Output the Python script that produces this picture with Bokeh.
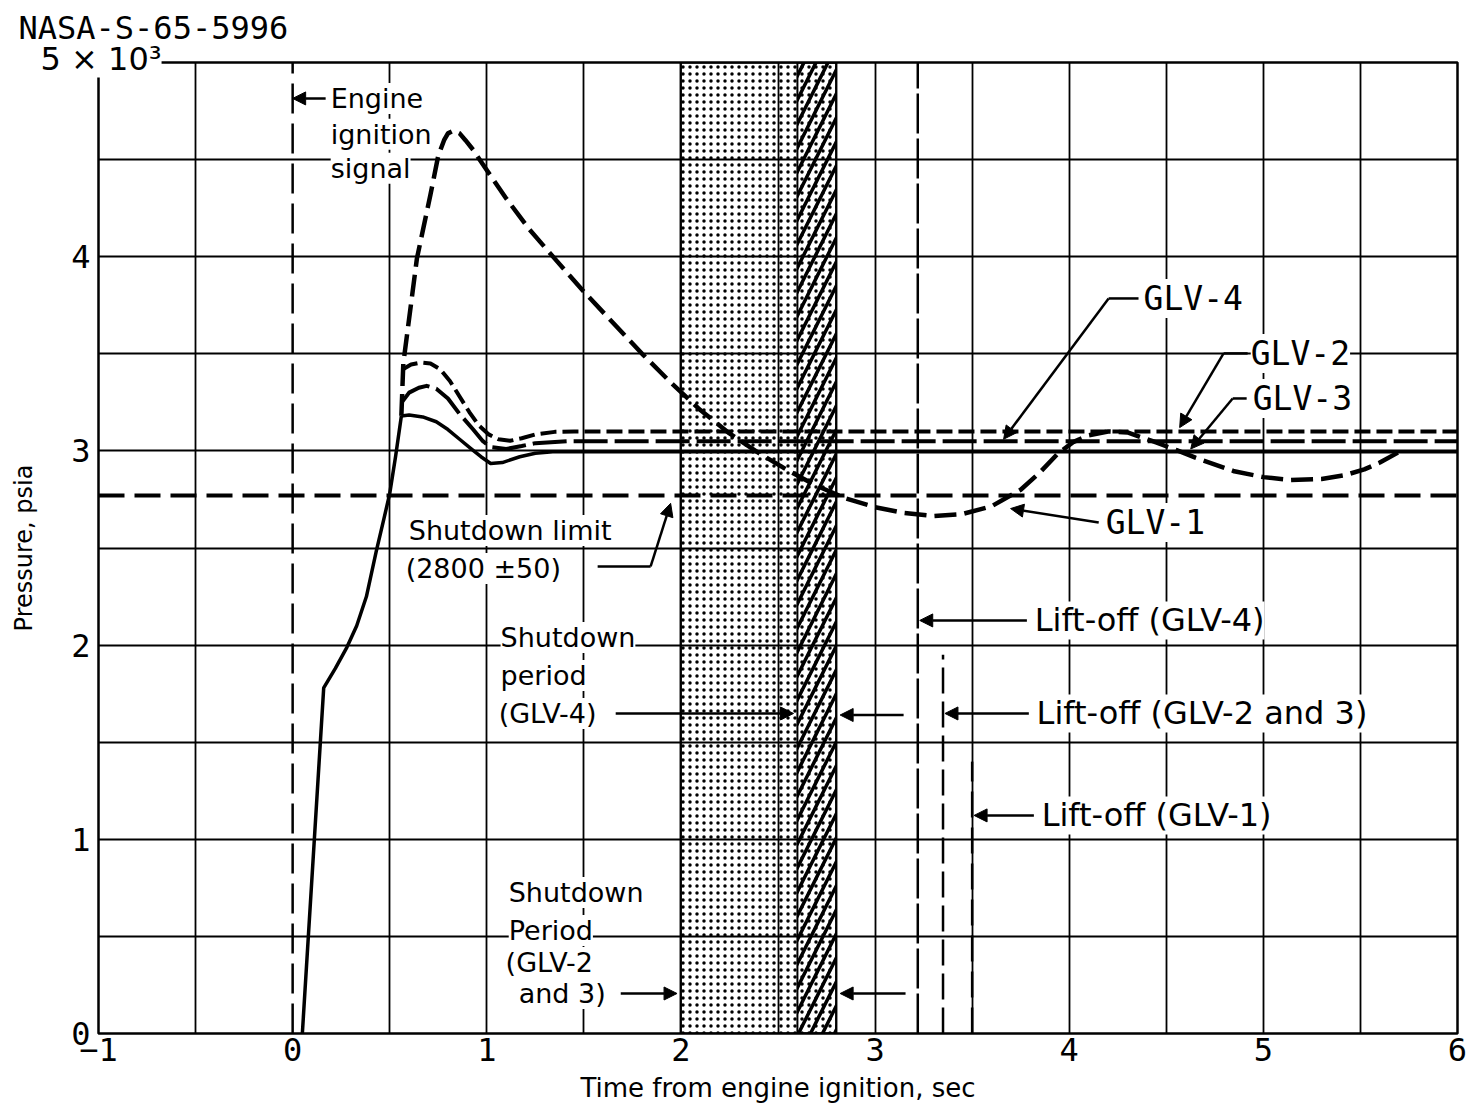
from bokeh.plotting import figure
from bokeh.models import Label, Arrow, NormalHead, FixedTicker, Range1d, Title
from bokeh.embed import file_html
from bokeh.resources import INLINE

# ---------------- data (time in s, pressure in psia) ----------------
rise_t = [0.05, 0.16, 0.22, 0.28, 0.33, 0.38, 0.43, 0.47, 0.50, 0.53, 0.56]
rise_p = [0, 1780, 1880, 1990, 2100, 2250, 2480, 2650, 2780, 2970, 3180]

glv1_t = [0.56, 0.57, 0.64, 0.71, 0.75, 0.78, 0.80, 0.83, 0.86, 0.89, 0.93, 0.99,
          1.10, 1.22, 1.35, 1.50, 1.65, 1.80, 1.95, 2.10, 2.25, 2.40, 2.55, 2.70,
          2.85, 3.00, 3.15, 3.30, 3.45, 3.60, 3.75, 3.85, 3.94, 4.02, 4.10, 4.20,
          4.30, 4.43, 4.55, 4.65, 4.85, 5.00, 5.14, 5.30, 5.42, 5.52, 5.60, 5.70]
glv1_p = [3180, 3450, 3990, 4320, 4520, 4600, 4635, 4650, 4635, 4600, 4550, 4460,
          4300, 4140, 3990, 3820, 3660, 3500, 3350, 3210, 3090, 2990, 2900, 2820,
          2755, 2710, 2680, 2665, 2675, 2715, 2800, 2890, 2985, 3045, 3080, 3100,
          3095, 3050, 3005, 2965, 2895, 2865, 2850, 2855, 2875, 2905, 2940, 2995]

glv2_t = [0.568, 0.61, 0.66, 0.71, 0.76, 0.81, 0.86, 0.91, 0.96, 1.01, 1.06, 1.12,
          1.18, 1.25, 1.35, 1.45, 6.0]
glv2_p = [3420, 3445, 3455, 3450, 3420, 3360, 3280, 3200, 3130, 3085, 3060, 3052,
          3065, 3085, 3098, 3100, 3100]

glv3_t = [0.56, 0.60, 0.67, 0.74, 0.80, 0.86, 0.92, 0.97, 1.02, 1.08, 1.17, 1.25,
          1.34, 1.50, 6.0]
glv3_p = [3180, 3185, 3175, 3150, 3110, 3060, 3010, 2970, 2935, 2940, 2970, 2988,
          2995, 2995, 2995]

glv4_t = [0.562, 0.60, 0.65, 0.69, 0.74, 0.80, 0.86, 0.93, 0.98, 1.02, 1.10, 1.18,
          1.25, 1.42, 6.0]
glv4_p = [3250, 3300, 3325, 3335, 3320, 3270, 3190, 3110, 3050, 3020, 3010, 3025,
          3040, 3050, 3050]

shutdown_limit = 2770
ignition_time = 0.0
liftoff_names = ["GLV-4", "GLV-2 and 3", "GLV-1"]
liftoff_times = [3.22, 3.35, 3.50]
liftoff_tops = [5000, 1950, 1400]
shutdown_23 = [2.0, 2.8]
shutdown_4 = [2.6, 2.8]

x_ticks = [-1, 0, 1, 2, 3, 4, 5, 6]
y_ticks = [0, 1000, 2000, 3000, 4000, 5000]
y_tick_labels = ["0", "1", "2", "3", "4", ""]
x_grid = [-0.5, 0.5, 1, 1.5, 2, 2.5, 3, 3.5, 4, 4.5, 5, 5.5]
y_grid = [500, 1000, 1500, 2000, 2500, 3000, 3500, 4000, 4500]

# ---------------- figure ----------------
p = figure(x_range=Range1d(-1, 6), y_range=Range1d(0, 5000),
           frame_width=1359, frame_height=971,
           min_border_left=98, min_border_right=11, min_border_top=62, min_border_bottom=10,
           output_backend="svg", toolbar_location=None,
           background_fill_color="white", border_fill_color="white")

p.outline_line_color = "black"
p.outline_line_width = 2.5

# scale factor label, sitting on the top-left corner of the frame
p.add_layout(Title(text="5 × 10³", align="left", offset=-58, vertical_align="bottom",
                   standoff=-30, text_font="DejaVu Sans", text_font_size="32px",
                   text_font_style="normal", text_color="black",
                   background_fill_color="white"), "above")

# chart id
p.title.text = "NASA-S-65-5996"
p.title.align = "left"
p.title.offset = -80
p.title.standoff = 12
p.title.text_font = "DejaVu Sans Mono"
p.title.text_font_size = "32px"
p.title.text_font_style = "normal"
p.title.text_color = "black"

p.xgrid.ticker = FixedTicker(ticks=x_grid)
p.ygrid.ticker = FixedTicker(ticks=y_grid)
for g in (p.xgrid, p.ygrid):
    g.grid_line_color = "black"
    g.grid_line_width = 1.8
    g.grid_line_alpha = 1.0

p.xaxis.ticker = FixedTicker(ticks=x_ticks)
p.yaxis.ticker = FixedTicker(ticks=y_ticks)
p.yaxis.major_label_overrides = {t: l for t, l in zip(y_ticks, y_tick_labels)}
for ax in (p.xaxis, p.yaxis):
    ax.axis_line_color = None
    ax.major_tick_in = 0
    ax.major_tick_out = 0
    ax.minor_tick_in = 0
    ax.minor_tick_out = 0
    ax.major_label_text_font = "DejaVu Sans Mono"
    ax.major_label_text_font_size = "32px"
    ax.major_label_text_color = "black"
    ax.axis_label_text_font = "DejaVu Sans"
    ax.axis_label_text_font_style = "normal"
    ax.axis_label_text_color = "black"
p.xaxis.major_label_standoff = 4
p.yaxis.major_label_standoff = 8
p.xaxis.axis_label = "Time from engine ignition, sec"
p.xaxis.axis_label_text_font_size = "26px"
p.xaxis.axis_label_standoff = 9
p.yaxis.axis_label = "Pressure, psia"
p.yaxis.axis_label_text_font_size = "24px"
p.yaxis.axis_label_standoff = 30

# ---------------- shutdown periods ----------------
p.quad(left=[shutdown_23[0]], right=[shutdown_23[1]], bottom=[0], top=[5000],
       fill_alpha=0, line_color="black", line_width=2,
       hatch_pattern=".", hatch_scale=7, hatch_weight=3.5, hatch_color="black", hatch_alpha=1)
p.quad(left=[shutdown_4[0]], right=[shutdown_4[1]], bottom=[0], top=[5000],
       fill_alpha=0, line_color="black", line_width=2,
       hatch_pattern="/", hatch_scale=24, hatch_weight=3.5, hatch_color="black", hatch_alpha=1)

# ---------------- reference lines ----------------
p.line([-1, 6], [shutdown_limit, shutdown_limit], line_color="black", line_width=4, line_dash="26 10")
p.line([ignition_time, ignition_time], [0, 5000], line_color="black", line_width=2.5, line_dash="30 10")
lift_dash = ["40 5", "26 8", "26 10"]
for t, top, d in zip(liftoff_times, liftoff_tops, lift_dash):
    p.line([t, t], [0, top], line_color="black", line_width=2.5, line_dash=d)

# ---------------- pressure curves ----------------
p.line(rise_t, rise_p, line_color="black", line_width=3.5, line_join="round")
p.line(glv3_t, glv3_p, line_color="black", line_width=3.5, line_join="round")
p.line(glv4_t, glv4_p, line_color="black", line_width=4, line_dash="34 7", line_join="round")
p.line(glv2_t, glv2_p, line_color="black", line_width=4, line_dash="16 6", line_join="round")
p.line(glv1_t, glv1_p, line_color="black", line_width=4.5, line_dash="22 8", line_join="round")

# ---------------- annotations ----------------
def label(x, y, text, size="27px", font="DejaVu Sans"):
    p.add_layout(Label(x=x, y=y, text=text, text_font=font, text_font_size=size,
                       text_baseline="middle", text_align="left", text_color="black",
                       background_fill_color="white"))

def arrow(xs, ys, xe, ye):
    p.add_layout(Arrow(end=NormalHead(size=13, fill_color="black", line_color="black", line_width=1),
                       x_start=xs, y_start=ys, x_end=xe, y_end=ye,
                       line_color="black", line_width=2.5))

def leader(xs, ys):
    p.line(xs, ys, line_color="black", line_width=2.5)

# engine ignition signal
label(0.196, 4815, "Engine")
label(0.196, 4630, "ignition")
label(0.196, 4455, "signal")
arrow(0.17, 4815, ignition_time, 4815)

# shutdown limit
label(0.598, 2590, "Shutdown limit")
label(0.582, 2394, "(2800 ±50)")
leader([1.571, 1.844], [2405, 2405])
arrow(1.844, 2405, 1.947, 2730)

# shutdown period GLV-4
label(1.071, 2039, "Shutdown")
label(1.071, 1843, "period")
label(1.061, 1648, "(GLV-4)")
arrow(1.664, 1648, shutdown_4[0] - 0.02, 1648)
arrow(3.147, 1640, shutdown_4[1] + 0.02, 1640)

# shutdown period GLV-2 and 3
label(1.113, 726, "Shutdown")
label(1.113, 530, "Period")
label(1.097, 366, "(GLV-2")
label(1.164, 206, "and 3)")
arrow(1.69, 206, shutdown_23[0] - 0.02, 206)
arrow(3.157, 206, shutdown_23[1] + 0.02, 206)

# series labels
glv_font = "33px"
label(4.383, 3785, "GLV-4", size=glv_font, font="DejaVu Sans Mono")
leader([4.357, 4.203], [3785, 3785])
arrow(4.203, 3785, 3.662, 3060)

label(4.935, 3502, "GLV-2", size=glv_font, font="DejaVu Sans Mono")
leader([4.919, 4.795], [3502, 3502])
arrow(4.795, 3502, 4.569, 3120)

label(4.945, 3270, "GLV-3", size=glv_font, font="DejaVu Sans Mono")
leader([4.914, 4.842], [3270, 3270])
arrow(4.842, 3270, 4.626, 3010)

label(4.188, 2631, "GLV-1", size=glv_font, font="DejaVu Sans Mono")
arrow(4.152, 2631, 3.698, 2703)

# lift-off labels
liftoff_label_x = [3.822, 3.832, 3.858]
liftoff_label_y = [2127, 1648, 1123]
for name, t, lx, ly in zip(liftoff_names, liftoff_times, liftoff_label_x, liftoff_label_y):
    label(lx, ly, "Lift-off (" + name + ")", size="32px")
    arrow(lx - 0.04, ly, t + 0.01, ly)

open("out.html", "w").write(file_html(p, INLINE))
